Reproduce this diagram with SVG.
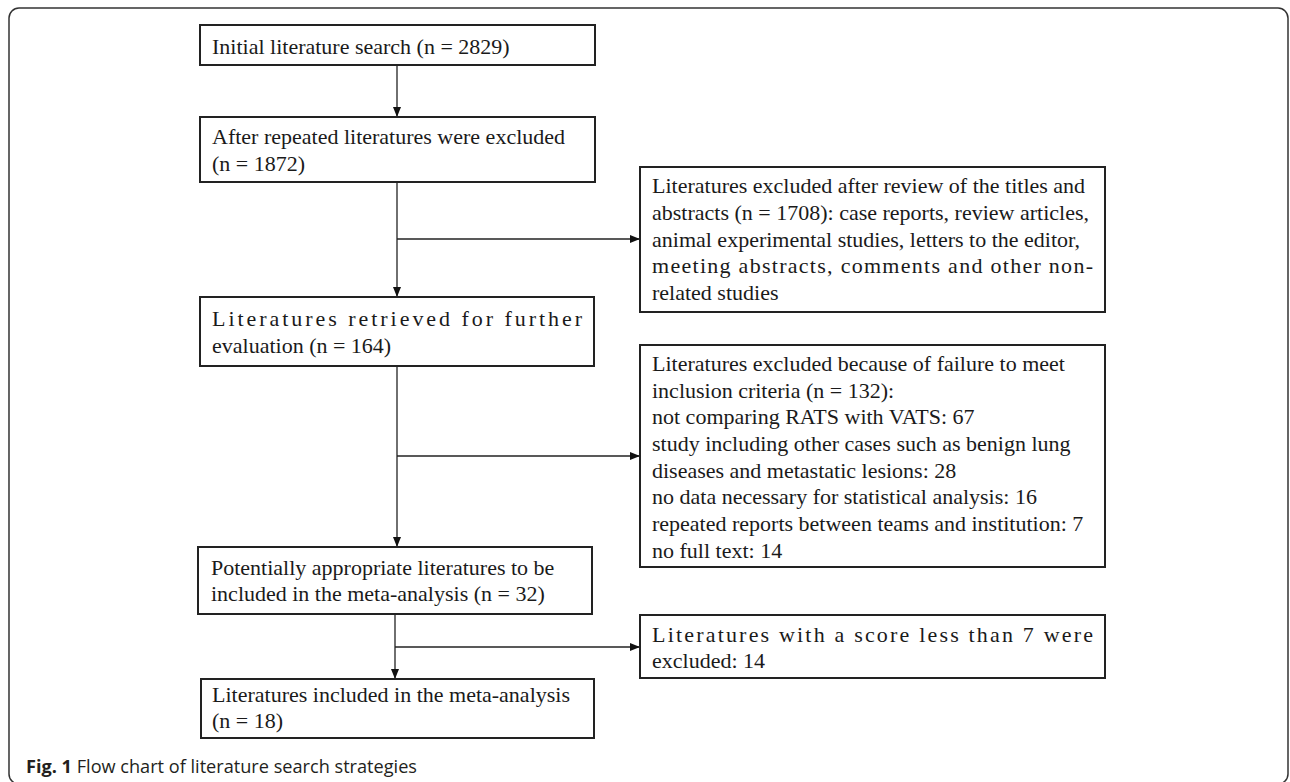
<svg xmlns="http://www.w3.org/2000/svg" width="1290" height="782" viewBox="0 0 1290 782">
<defs>
<style>
.box{fill:#fff;stroke:#222;stroke-width:2}
.t{font-family:"Liberation Serif","Times New Roman",serif;font-size:22px;fill:#1a1a1a}
.c{fill:none;stroke:#222;stroke-width:1.3}
.cap{font-family:"Open Sans","Noto Sans",sans-serif;font-size:18px;fill:#231f20}
</style>
<marker id="ah" viewBox="0 0 10 10" refX="10" refY="5" markerWidth="10" markerHeight="10" markerUnits="userSpaceOnUse" orient="auto">
<path d="M0,1 L10,5 L0,9 Z" fill="#111"/>
</marker>
</defs>
<rect width="1290" height="782" fill="#fff"/>
<rect id="frame" x="9" y="8" width="1279" height="776" rx="10" ry="10" fill="none" stroke="#333" stroke-width="1.5"/>

<g id="connectors">
<path class="c" d="M397,65 V117" marker-end="url(#ah)"/>
<path class="c" d="M397,182 V297" marker-end="url(#ah)"/>
<path class="c" d="M397,239 H640" marker-end="url(#ah)"/>
<path class="c" d="M397,366 V547" marker-end="url(#ah)"/>
<path class="c" d="M397,456 H640" marker-end="url(#ah)"/>
<path class="c" d="M395,614 V679" marker-end="url(#ah)"/>
<path class="c" d="M395,647 H640" marker-end="url(#ah)"/>
</g>

<g id="n1">
<rect class="box" x="200" y="25" width="395" height="40"/>
<text class="t" x="212" y="54">Initial literature search (n = 2829)</text>
</g>

<g id="n2">
<rect class="box" x="200" y="117" width="395" height="65"/>
<text class="t" x="212" y="144">After repeated literatures were excluded</text>
<text class="t" x="212" y="171">(n = 1872)</text>
</g>

<g id="n3">
<rect class="box" x="640" y="167" width="465" height="145"/>
<text class="t" x="652" y="193">Literatures excluded after review of the titles and</text>
<text class="t" x="652" y="220">abstracts (n = 1708): case reports, review articles,</text>
<text class="t" x="652" y="246.5">animal experimental studies, letters to the editor,</text>
<text class="t" x="652" y="273" textLength="441" lengthAdjust="spacing">meeting abstracts, comments and other non-</text>
<text class="t" x="652" y="300">related studies</text>
</g>

<g id="n4">
<rect class="box" x="200" y="297" width="394" height="69"/>
<text class="t" x="212" y="326" textLength="370" lengthAdjust="spacing">Literatures retrieved for further</text>
<text class="t" x="212" y="353">evaluation (n = 164)</text>
</g>

<g id="n5">
<rect class="box" x="640" y="345" width="465" height="222"/>
<text class="t" x="652" y="371">Literatures excluded because of failure to meet</text>
<text class="t" x="652" y="397.7">inclusion criteria (n = 132):</text>
<text class="t" x="652" y="424.3">not comparing RATS with VATS: 67</text>
<text class="t" x="652" y="451">study including other cases such as benign lung</text>
<text class="t" x="652" y="477.7">diseases and metastatic lesions: 28</text>
<text class="t" x="652" y="504.3">no data necessary for statistical analysis: 16</text>
<text class="t" x="652" y="531">repeated reports between teams and institution: 7</text>
<text class="t" x="652" y="557.7">no full text: 14</text>
</g>

<g id="n6">
<rect class="box" x="198" y="547" width="394" height="67"/>
<text class="t" x="211" y="575">Potentially appropriate literatures to be</text>
<text class="t" x="211" y="601">included in the meta-analysis (n = 32)</text>
</g>

<g id="n7">
<rect class="box" x="640" y="615" width="465" height="63"/>
<text class="t" x="652" y="642" textLength="441" lengthAdjust="spacing">Literatures with a score less than 7 were</text>
<text class="t" x="652" y="668">excluded: 14</text>
</g>

<g id="n8">
<rect class="box" x="201" y="679" width="393" height="59"/>
<text class="t" x="212" y="702">Literatures included in the meta-analysis</text>
<text class="t" x="212" y="728">(n = 18)</text>
</g>

<text class="cap" x="26" y="773" textLength="391" lengthAdjust="spacingAndGlyphs"><tspan font-weight="bold">Fig. 1</tspan> Flow chart of literature search strategies</text>
</svg>
